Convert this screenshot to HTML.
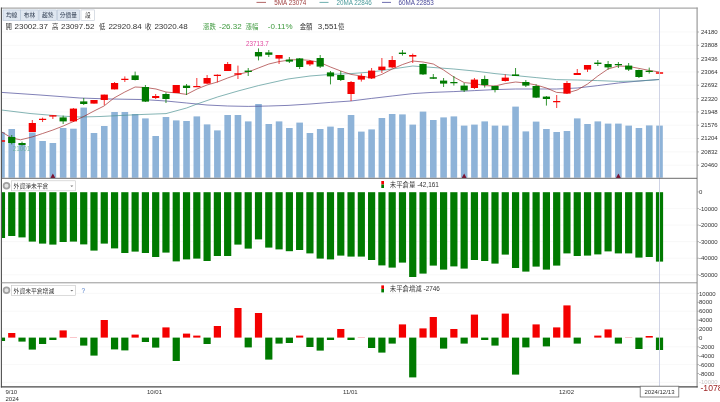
<!DOCTYPE html><html><head><meta charset="utf-8"><title>chart</title><style>html,body{margin:0;padding:0;background:#fff;overflow:hidden}svg{display:block}text{font-family:"Liberation Sans","Noto Sans CJK TC",sans-serif}</style></head><body>
<svg width="720" height="402" viewBox="0 0 720 402">
<rect width="720" height="402" fill="#fff"/>
<defs><clipPath id="cp"><rect x="1.8" y="8" width="695" height="379"/></clipPath></defs>
<line x1="2" x2="697" y1="32.00" y2="32.00" stroke="#f4f4f4" stroke-width="0.6"/>
<line x1="2" x2="697" y1="45.32" y2="45.32" stroke="#f4f4f4" stroke-width="0.6"/>
<line x1="2" x2="697" y1="58.64" y2="58.64" stroke="#f4f4f4" stroke-width="0.6"/>
<line x1="2" x2="697" y1="71.96" y2="71.96" stroke="#f4f4f4" stroke-width="0.6"/>
<line x1="2" x2="697" y1="85.28" y2="85.28" stroke="#f4f4f4" stroke-width="0.6"/>
<line x1="2" x2="697" y1="98.60" y2="98.60" stroke="#f4f4f4" stroke-width="0.6"/>
<line x1="2" x2="697" y1="111.92" y2="111.92" stroke="#f4f4f4" stroke-width="0.6"/>
<line x1="2" x2="697" y1="125.24" y2="125.24" stroke="#f4f4f4" stroke-width="0.6"/>
<line x1="2" x2="697" y1="138.56" y2="138.56" stroke="#f4f4f4" stroke-width="0.6"/>
<line x1="2" x2="697" y1="151.88" y2="151.88" stroke="#f4f4f4" stroke-width="0.6"/>
<line x1="2" x2="697" y1="165.20" y2="165.20" stroke="#f4f4f4" stroke-width="0.6"/>
<line x1="2" x2="697" y1="208.48" y2="208.48" stroke="#f4f4f4" stroke-width="0.6"/>
<line x1="2" x2="697" y1="225.06" y2="225.06" stroke="#f4f4f4" stroke-width="0.6"/>
<line x1="2" x2="697" y1="241.64" y2="241.64" stroke="#f4f4f4" stroke-width="0.6"/>
<line x1="2" x2="697" y1="258.22" y2="258.22" stroke="#f4f4f4" stroke-width="0.6"/>
<line x1="2" x2="697" y1="274.80" y2="274.80" stroke="#f4f4f4" stroke-width="0.6"/>
<line x1="2" x2="697" y1="293.40" y2="293.40" stroke="#f4f4f4" stroke-width="0.6"/>
<line x1="2" x2="697" y1="311.20" y2="311.20" stroke="#f4f4f4" stroke-width="0.6"/>
<line x1="2" x2="697" y1="329.00" y2="329.00" stroke="#f4f4f4" stroke-width="0.6"/>
<line x1="2" x2="697" y1="346.80" y2="346.80" stroke="#f4f4f4" stroke-width="0.6"/>
<line x1="2" x2="697" y1="364.60" y2="364.60" stroke="#f4f4f4" stroke-width="0.6"/>
<line x1="2" x2="697" y1="382.40" y2="382.40" stroke="#f4f4f4" stroke-width="0.6"/>
<g clip-path="url(#cp)">
<rect x="-1.84" y="132.00" width="6.6" height="45.70" fill="#8eb3d8"/>
<rect x="8.44" y="129.00" width="6.6" height="48.70" fill="#8eb3d8"/>
<rect x="18.72" y="144.60" width="6.6" height="33.10" fill="#8eb3d8"/>
<rect x="29.01" y="132.50" width="6.6" height="45.20" fill="#8eb3d8"/>
<rect x="39.29" y="141.00" width="6.6" height="36.70" fill="#8eb3d8"/>
<rect x="49.57" y="143.00" width="6.6" height="34.70" fill="#8eb3d8"/>
<rect x="59.85" y="128.00" width="6.6" height="49.70" fill="#8eb3d8"/>
<rect x="70.13" y="128.70" width="6.6" height="49.00" fill="#8eb3d8"/>
<rect x="80.42" y="107.60" width="6.6" height="70.10" fill="#8eb3d8"/>
<rect x="90.70" y="133.00" width="6.6" height="44.70" fill="#8eb3d8"/>
<rect x="100.98" y="126.00" width="6.6" height="51.70" fill="#8eb3d8"/>
<rect x="111.26" y="112.00" width="6.6" height="65.70" fill="#8eb3d8"/>
<rect x="121.54" y="112.00" width="6.6" height="65.70" fill="#8eb3d8"/>
<rect x="131.83" y="114.00" width="6.6" height="63.70" fill="#8eb3d8"/>
<rect x="142.11" y="118.40" width="6.6" height="59.30" fill="#8eb3d8"/>
<rect x="152.39" y="136.00" width="6.6" height="41.70" fill="#8eb3d8"/>
<rect x="162.67" y="117.00" width="6.6" height="60.70" fill="#8eb3d8"/>
<rect x="172.95" y="120.40" width="6.6" height="57.30" fill="#8eb3d8"/>
<rect x="183.24" y="121.00" width="6.6" height="56.70" fill="#8eb3d8"/>
<rect x="193.52" y="116.40" width="6.6" height="61.30" fill="#8eb3d8"/>
<rect x="203.80" y="124.40" width="6.6" height="53.30" fill="#8eb3d8"/>
<rect x="214.08" y="130.40" width="6.6" height="47.30" fill="#8eb3d8"/>
<rect x="224.36" y="115.00" width="6.6" height="62.70" fill="#8eb3d8"/>
<rect x="234.65" y="115.00" width="6.6" height="62.70" fill="#8eb3d8"/>
<rect x="244.93" y="121.40" width="6.6" height="56.30" fill="#8eb3d8"/>
<rect x="255.21" y="104.00" width="6.6" height="73.70" fill="#8eb3d8"/>
<rect x="265.49" y="124.00" width="6.6" height="53.70" fill="#8eb3d8"/>
<rect x="275.77" y="121.40" width="6.6" height="56.30" fill="#8eb3d8"/>
<rect x="286.06" y="128.00" width="6.6" height="49.70" fill="#8eb3d8"/>
<rect x="296.34" y="122.60" width="6.6" height="55.10" fill="#8eb3d8"/>
<rect x="306.62" y="133.00" width="6.6" height="44.70" fill="#8eb3d8"/>
<rect x="316.90" y="129.00" width="6.6" height="48.70" fill="#8eb3d8"/>
<rect x="327.18" y="126.60" width="6.6" height="51.10" fill="#8eb3d8"/>
<rect x="337.47" y="128.00" width="6.6" height="49.70" fill="#8eb3d8"/>
<rect x="347.75" y="115.00" width="6.6" height="62.70" fill="#8eb3d8"/>
<rect x="358.03" y="131.60" width="6.6" height="46.10" fill="#8eb3d8"/>
<rect x="368.31" y="129.40" width="6.6" height="48.30" fill="#8eb3d8"/>
<rect x="378.59" y="118.00" width="6.6" height="59.70" fill="#8eb3d8"/>
<rect x="388.88" y="114.00" width="6.6" height="63.70" fill="#8eb3d8"/>
<rect x="399.16" y="114.40" width="6.6" height="63.30" fill="#8eb3d8"/>
<rect x="409.44" y="124.60" width="6.6" height="53.10" fill="#8eb3d8"/>
<rect x="419.72" y="111.60" width="6.6" height="66.10" fill="#8eb3d8"/>
<rect x="430.00" y="120.00" width="6.6" height="57.70" fill="#8eb3d8"/>
<rect x="440.29" y="117.40" width="6.6" height="60.30" fill="#8eb3d8"/>
<rect x="450.57" y="116.40" width="6.6" height="61.30" fill="#8eb3d8"/>
<rect x="460.85" y="125.60" width="6.6" height="52.10" fill="#8eb3d8"/>
<rect x="471.13" y="124.60" width="6.6" height="53.10" fill="#8eb3d8"/>
<rect x="481.41" y="121.40" width="6.6" height="56.30" fill="#8eb3d8"/>
<rect x="491.70" y="125.60" width="6.6" height="52.10" fill="#8eb3d8"/>
<rect x="501.98" y="125.60" width="6.6" height="52.10" fill="#8eb3d8"/>
<rect x="512.26" y="106.60" width="6.6" height="71.10" fill="#8eb3d8"/>
<rect x="522.54" y="131.40" width="6.6" height="46.30" fill="#8eb3d8"/>
<rect x="532.82" y="121.60" width="6.6" height="56.10" fill="#8eb3d8"/>
<rect x="543.11" y="129.00" width="6.6" height="48.70" fill="#8eb3d8"/>
<rect x="553.39" y="132.00" width="6.6" height="45.70" fill="#8eb3d8"/>
<rect x="563.67" y="131.00" width="6.6" height="46.70" fill="#8eb3d8"/>
<rect x="573.95" y="118.40" width="6.6" height="59.30" fill="#8eb3d8"/>
<rect x="584.23" y="124.00" width="6.6" height="53.70" fill="#8eb3d8"/>
<rect x="594.52" y="121.40" width="6.6" height="56.30" fill="#8eb3d8"/>
<rect x="604.80" y="123.60" width="6.6" height="54.10" fill="#8eb3d8"/>
<rect x="615.08" y="123.60" width="6.6" height="54.10" fill="#8eb3d8"/>
<rect x="625.36" y="125.60" width="6.6" height="52.10" fill="#8eb3d8"/>
<rect x="635.64" y="128.00" width="6.6" height="49.70" fill="#8eb3d8"/>
<rect x="645.93" y="125.40" width="6.6" height="52.30" fill="#8eb3d8"/>
<rect x="656.21" y="125.60" width="6.6" height="52.10" fill="#8eb3d8"/>
<polyline points="1.5,92.4 40.0,95.0 80.0,98.0 110.0,99.0 144.0,99.6 166.0,101.0 186.6,103.0 207.0,105.0 227.6,106.0 248.2,106.4 268.8,106.0 288.0,105.4 310.0,104.0 330.4,102.4 351.0,101.0 371.6,98.4 392.2,96.0 412.8,93.6 432.0,92.4 453.8,91.6 474.4,90.6 495.0,89.6 515.6,89.0 536.2,89.0 556.6,89.0 577.2,88.0 597.8,85.6 618.4,83.0 639.0,81.0 659.4,79.4" fill="none" stroke="#4a4a98" stroke-width="0.7" stroke-linejoin="round"/>
<polyline points="1.5,110.0 30.0,113.5 60.0,116.0 80.0,117.0 100.0,116.5 120.0,115.5 144.0,114.4 166.0,113.6 186.6,108.0 197.0,104.0 217.4,97.0 238.0,91.0 258.4,85.6 279.0,81.0 288.0,79.0 310.0,76.0 330.4,74.4 351.0,73.6 371.6,72.0 392.2,69.0 412.8,66.0 432.0,67.4 453.8,69.0 474.4,71.0 495.0,73.6 515.6,75.6 536.2,77.6 556.6,79.6 577.2,80.0 597.8,80.6 618.4,81.4 639.0,81.0 659.4,79.6" fill="none" stroke="#4f9393" stroke-width="0.7" stroke-linejoin="round"/>
<polyline points="1.5,131.8 11.7,138.0 20.5,139.8 32.0,137.0 42.6,133.5 52.9,130.0 63.2,126.0 73.4,121.5 83.7,116.5 94.0,111.0 104.0,106.0 114.0,98.0 124.8,92.0 135.1,87.0 145.4,87.5 156.0,89.0 166.0,92.0 177.0,93.0 186.6,94.4 197.0,89.0 207.0,85.0 217.4,82.0 227.6,78.0 238.0,74.4 248.2,72.0 258.4,68.0 268.8,64.0 279.0,61.6 289.4,60.0 299.6,59.6 310.0,60.4 320.2,62.6 330.4,67.0 340.8,71.0 351.0,74.4 361.4,76.0 371.6,78.0 381.8,74.4 392.2,69.0 402.4,64.6 412.8,61.0 423.0,62.0 433.3,64.0 443.6,70.0 453.8,77.0 464.2,82.6 474.4,83.6 484.8,85.6 495.0,86.0 505.2,83.6 515.6,82.0 525.8,83.0 536.2,85.0 546.4,88.0 556.6,92.4 567.0,93.0 577.2,90.0 587.6,84.0 597.8,76.0 608.0,69.0 618.4,66.0 628.6,66.4 639.0,68.4 649.2,70.4 659.4,72.0" fill="none" stroke="#a23030" stroke-width="0.7" stroke-linejoin="round"/>
<line x1="1.46" x2="1.46" y1="134.00" y2="150.00" stroke="#f40000" stroke-width="0.8"/>
<line x1="-2.14" x2="5.06" y1="141.00" y2="141.00" stroke="#f40000" stroke-width="1.3"/>
<line x1="11.74" x2="11.74" y1="135.00" y2="144.40" stroke="#007a00" stroke-width="0.8"/>
<rect x="8.14" y="137.00" width="7.2" height="6.00" fill="#007a00"/>
<line x1="22.02" x2="22.02" y1="141.60" y2="145.60" stroke="#007a00" stroke-width="0.8"/>
<rect x="18.42" y="143.00" width="7.2" height="2.00" fill="#007a00"/>
<line x1="32.31" x2="32.31" y1="120.00" y2="132.00" stroke="#f40000" stroke-width="0.8"/>
<rect x="28.71" y="123.00" width="7.2" height="9.00" fill="#f40000"/>
<line x1="42.59" x2="42.59" y1="117.60" y2="122.00" stroke="#f40000" stroke-width="0.8"/>
<line x1="38.99" x2="46.19" y1="119.40" y2="119.40" stroke="#f40000" stroke-width="1.3"/>
<line x1="52.87" x2="52.87" y1="115.20" y2="119.00" stroke="#f40000" stroke-width="0.8"/>
<rect x="49.27" y="115.20" width="7.2" height="1.40" fill="#f40000"/>
<line x1="63.15" x2="63.15" y1="115.60" y2="124.00" stroke="#007a00" stroke-width="0.8"/>
<rect x="59.55" y="117.40" width="7.2" height="4.00" fill="#007a00"/>
<line x1="73.43" x2="73.43" y1="108.00" y2="122.00" stroke="#f40000" stroke-width="0.8"/>
<rect x="69.83" y="108.60" width="7.2" height="12.80" fill="#f40000"/>
<line x1="83.72" x2="83.72" y1="98.00" y2="105.00" stroke="#007a00" stroke-width="0.8"/>
<rect x="80.12" y="101.40" width="7.2" height="2.60" fill="#007a00"/>
<line x1="94.00" x2="94.00" y1="100.00" y2="103.60" stroke="#f40000" stroke-width="0.8"/>
<rect x="90.40" y="100.00" width="7.2" height="3.60" fill="#f40000"/>
<line x1="104.28" x2="104.28" y1="94.60" y2="105.00" stroke="#f40000" stroke-width="0.8"/>
<rect x="100.68" y="94.60" width="7.2" height="5.40" fill="#f40000"/>
<line x1="114.56" x2="114.56" y1="82.00" y2="89.40" stroke="#f40000" stroke-width="0.8"/>
<rect x="110.96" y="83.00" width="7.2" height="6.40" fill="#f40000"/>
<line x1="124.84" x2="124.84" y1="76.40" y2="82.00" stroke="#f40000" stroke-width="0.8"/>
<line x1="121.24" x2="128.44" y1="79.40" y2="79.40" stroke="#f40000" stroke-width="1.3"/>
<line x1="135.13" x2="135.13" y1="71.60" y2="80.40" stroke="#007a00" stroke-width="0.8"/>
<rect x="131.53" y="75.40" width="7.2" height="4.60" fill="#007a00"/>
<line x1="145.41" x2="145.41" y1="85.00" y2="102.00" stroke="#007a00" stroke-width="0.8"/>
<rect x="141.81" y="87.00" width="7.2" height="14.60" fill="#007a00"/>
<line x1="155.69" x2="155.69" y1="94.00" y2="99.00" stroke="#f40000" stroke-width="0.8"/>
<rect x="152.09" y="96.00" width="7.2" height="2.00" fill="#f40000"/>
<line x1="165.97" x2="165.97" y1="92.40" y2="103.00" stroke="#007a00" stroke-width="0.8"/>
<rect x="162.37" y="94.00" width="7.2" height="5.00" fill="#007a00"/>
<line x1="176.25" x2="176.25" y1="85.00" y2="93.00" stroke="#f40000" stroke-width="0.8"/>
<rect x="172.65" y="85.00" width="7.2" height="8.00" fill="#f40000"/>
<line x1="186.54" x2="186.54" y1="84.00" y2="95.00" stroke="#007a00" stroke-width="0.8"/>
<rect x="182.94" y="85.60" width="7.2" height="2.40" fill="#007a00"/>
<line x1="196.82" x2="196.82" y1="78.00" y2="87.00" stroke="#f40000" stroke-width="0.8"/>
<line x1="193.22" x2="200.42" y1="86.60" y2="86.60" stroke="#f40000" stroke-width="1.3"/>
<line x1="207.10" x2="207.10" y1="75.00" y2="84.00" stroke="#f40000" stroke-width="0.8"/>
<rect x="203.50" y="78.00" width="7.2" height="5.60" fill="#f40000"/>
<line x1="217.38" x2="217.38" y1="74.40" y2="82.40" stroke="#f40000" stroke-width="0.8"/>
<line x1="213.78" x2="220.98" y1="75.40" y2="75.40" stroke="#f40000" stroke-width="1.3"/>
<line x1="227.66" x2="227.66" y1="62.00" y2="71.00" stroke="#f40000" stroke-width="0.8"/>
<rect x="224.06" y="64.00" width="7.2" height="7.00" fill="#f40000"/>
<line x1="237.95" x2="237.95" y1="65.60" y2="79.00" stroke="#f40000" stroke-width="0.8"/>
<line x1="234.35" x2="241.55" y1="74.00" y2="74.00" stroke="#f40000" stroke-width="1.3"/>
<line x1="248.23" x2="248.23" y1="68.00" y2="76.00" stroke="#007a00" stroke-width="0.8"/>
<rect x="244.63" y="70.60" width="7.2" height="1.40" fill="#007a00"/>
<line x1="258.51" x2="258.51" y1="48.40" y2="60.40" stroke="#007a00" stroke-width="0.8"/>
<rect x="254.91" y="52.00" width="7.2" height="4.40" fill="#007a00"/>
<line x1="268.79" x2="268.79" y1="50.00" y2="57.00" stroke="#007a00" stroke-width="0.8"/>
<rect x="265.19" y="52.40" width="7.2" height="2.40" fill="#007a00"/>
<line x1="279.07" x2="279.07" y1="55.00" y2="64.00" stroke="#f40000" stroke-width="0.8"/>
<rect x="275.47" y="55.00" width="7.2" height="3.60" fill="#f40000"/>
<line x1="289.36" x2="289.36" y1="57.00" y2="63.00" stroke="#007a00" stroke-width="0.8"/>
<rect x="285.76" y="59.60" width="7.2" height="2.00" fill="#007a00"/>
<line x1="299.64" x2="299.64" y1="58.00" y2="69.00" stroke="#007a00" stroke-width="0.8"/>
<rect x="296.04" y="58.40" width="7.2" height="8.60" fill="#007a00"/>
<line x1="309.92" x2="309.92" y1="60.00" y2="66.00" stroke="#f40000" stroke-width="0.8"/>
<rect x="306.32" y="61.00" width="7.2" height="3.40" fill="#f40000"/>
<line x1="320.20" x2="320.20" y1="55.00" y2="68.00" stroke="#007a00" stroke-width="0.8"/>
<rect x="316.60" y="58.00" width="7.2" height="8.60" fill="#007a00"/>
<line x1="330.48" x2="330.48" y1="71.00" y2="84.40" stroke="#007a00" stroke-width="0.8"/>
<rect x="326.88" y="72.40" width="7.2" height="4.00" fill="#007a00"/>
<line x1="340.77" x2="340.77" y1="71.00" y2="81.00" stroke="#007a00" stroke-width="0.8"/>
<rect x="337.17" y="75.00" width="7.2" height="5.00" fill="#007a00"/>
<line x1="351.05" x2="351.05" y1="81.00" y2="101.00" stroke="#f40000" stroke-width="0.8"/>
<rect x="347.45" y="82.00" width="7.2" height="12.00" fill="#f40000"/>
<line x1="361.33" x2="361.33" y1="73.60" y2="81.60" stroke="#f40000" stroke-width="0.8"/>
<rect x="357.73" y="76.00" width="7.2" height="3.60" fill="#f40000"/>
<line x1="371.61" x2="371.61" y1="68.00" y2="79.00" stroke="#f40000" stroke-width="0.8"/>
<rect x="368.01" y="70.60" width="7.2" height="7.80" fill="#f40000"/>
<line x1="381.89" x2="381.89" y1="58.00" y2="73.00" stroke="#f40000" stroke-width="0.8"/>
<rect x="378.29" y="66.60" width="7.2" height="3.40" fill="#f40000"/>
<line x1="392.18" x2="392.18" y1="56.00" y2="68.00" stroke="#f40000" stroke-width="0.8"/>
<rect x="388.58" y="60.00" width="7.2" height="7.40" fill="#f40000"/>
<line x1="402.46" x2="402.46" y1="50.00" y2="55.60" stroke="#007a00" stroke-width="0.8"/>
<rect x="398.86" y="52.60" width="7.2" height="1.40" fill="#007a00"/>
<line x1="412.74" x2="412.74" y1="53.60" y2="63.00" stroke="#f40000" stroke-width="0.8"/>
<rect x="409.14" y="55.00" width="7.2" height="1.60" fill="#f40000"/>
<line x1="423.02" x2="423.02" y1="63.60" y2="75.00" stroke="#007a00" stroke-width="0.8"/>
<rect x="419.42" y="64.00" width="7.2" height="10.40" fill="#007a00"/>
<line x1="433.30" x2="433.30" y1="74.00" y2="79.00" stroke="#007a00" stroke-width="0.8"/>
<line x1="429.70" x2="436.90" y1="78.00" y2="78.00" stroke="#007a00" stroke-width="1.3"/>
<line x1="443.59" x2="443.59" y1="78.00" y2="87.00" stroke="#007a00" stroke-width="0.8"/>
<rect x="439.99" y="80.60" width="7.2" height="3.00" fill="#007a00"/>
<line x1="453.87" x2="453.87" y1="76.00" y2="85.60" stroke="#007a00" stroke-width="0.8"/>
<line x1="450.27" x2="457.47" y1="82.60" y2="82.60" stroke="#007a00" stroke-width="1.3"/>
<line x1="464.15" x2="464.15" y1="83.00" y2="92.00" stroke="#007a00" stroke-width="0.8"/>
<rect x="460.55" y="85.60" width="7.2" height="4.80" fill="#007a00"/>
<line x1="474.43" x2="474.43" y1="78.00" y2="89.00" stroke="#f40000" stroke-width="0.8"/>
<rect x="470.83" y="79.60" width="7.2" height="8.40" fill="#f40000"/>
<line x1="484.71" x2="484.71" y1="75.60" y2="87.60" stroke="#007a00" stroke-width="0.8"/>
<rect x="481.11" y="79.00" width="7.2" height="6.00" fill="#007a00"/>
<line x1="495.00" x2="495.00" y1="85.60" y2="92.40" stroke="#007a00" stroke-width="0.8"/>
<rect x="491.40" y="86.00" width="7.2" height="4.00" fill="#007a00"/>
<line x1="505.28" x2="505.28" y1="74.40" y2="81.60" stroke="#f40000" stroke-width="0.8"/>
<rect x="501.68" y="77.60" width="7.2" height="3.40" fill="#f40000"/>
<line x1="515.56" x2="515.56" y1="68.00" y2="76.00" stroke="#007a00" stroke-width="0.8"/>
<rect x="511.96" y="74.40" width="7.2" height="1.60" fill="#007a00"/>
<line x1="525.84" x2="525.84" y1="80.00" y2="87.00" stroke="#007a00" stroke-width="0.8"/>
<rect x="522.24" y="82.00" width="7.2" height="3.60" fill="#007a00"/>
<line x1="536.12" x2="536.12" y1="84.40" y2="98.00" stroke="#007a00" stroke-width="0.8"/>
<rect x="532.52" y="86.00" width="7.2" height="11.60" fill="#007a00"/>
<line x1="546.41" x2="546.41" y1="96.00" y2="105.60" stroke="#007a00" stroke-width="0.8"/>
<rect x="542.81" y="96.60" width="7.2" height="2.40" fill="#007a00"/>
<line x1="556.69" x2="556.69" y1="95.00" y2="108.00" stroke="#f40000" stroke-width="0.8"/>
<line x1="553.09" x2="560.29" y1="101.60" y2="101.60" stroke="#f40000" stroke-width="1.3"/>
<line x1="566.97" x2="566.97" y1="81.00" y2="94.00" stroke="#f40000" stroke-width="0.8"/>
<rect x="563.37" y="83.00" width="7.2" height="10.60" fill="#f40000"/>
<line x1="577.25" x2="577.25" y1="69.00" y2="75.00" stroke="#f40000" stroke-width="0.8"/>
<rect x="573.65" y="73.00" width="7.2" height="2.00" fill="#f40000"/>
<line x1="587.53" x2="587.53" y1="65.00" y2="72.00" stroke="#f40000" stroke-width="0.8"/>
<rect x="583.93" y="65.00" width="7.2" height="4.60" fill="#f40000"/>
<line x1="597.82" x2="597.82" y1="60.00" y2="66.00" stroke="#007a00" stroke-width="0.8"/>
<rect x="594.22" y="62.60" width="7.2" height="1.40" fill="#007a00"/>
<line x1="608.10" x2="608.10" y1="61.00" y2="69.60" stroke="#007a00" stroke-width="0.8"/>
<rect x="604.50" y="64.00" width="7.2" height="3.40" fill="#007a00"/>
<line x1="618.38" x2="618.38" y1="62.00" y2="68.00" stroke="#007a00" stroke-width="0.8"/>
<line x1="614.78" x2="621.98" y1="64.60" y2="64.60" stroke="#007a00" stroke-width="1.3"/>
<line x1="628.66" x2="628.66" y1="63.00" y2="71.00" stroke="#007a00" stroke-width="0.8"/>
<rect x="625.06" y="65.60" width="7.2" height="4.00" fill="#007a00"/>
<line x1="638.94" x2="638.94" y1="69.60" y2="78.00" stroke="#007a00" stroke-width="0.8"/>
<rect x="635.34" y="70.00" width="7.2" height="7.00" fill="#007a00"/>
<line x1="649.23" x2="649.23" y1="67.60" y2="73.60" stroke="#007a00" stroke-width="0.8"/>
<line x1="645.63" x2="652.83" y1="71.40" y2="71.40" stroke="#007a00" stroke-width="1.3"/>
<line x1="659.51" x2="659.51" y1="71.60" y2="74.00" stroke="#f40000" stroke-width="0.8"/>
<line x1="655.91" x2="663.11" y1="73.00" y2="73.00" stroke="#f40000" stroke-width="1.3"/>
<path d="M50.47 178 L52.87 173.6 L55.27 178 Z" fill="#7a1030"/>
<path d="M461.75 178 L464.15 173.6 L466.55 178 Z" fill="#7a1030"/>
<path d="M615.98 178 L618.38 173.6 L620.78 178 Z" fill="#7a1030"/>
<rect x="-2.14" y="192.2" width="7.2" height="45.80" fill="#007a00"/>
<rect x="8.14" y="192.2" width="7.2" height="43.80" fill="#007a00"/>
<rect x="18.42" y="192.2" width="7.2" height="45.20" fill="#007a00"/>
<rect x="28.71" y="192.2" width="7.2" height="49.40" fill="#007a00"/>
<rect x="38.99" y="192.2" width="7.2" height="51.40" fill="#007a00"/>
<rect x="49.27" y="192.2" width="7.2" height="52.40" fill="#007a00"/>
<rect x="59.55" y="192.2" width="7.2" height="49.80" fill="#007a00"/>
<rect x="69.83" y="192.2" width="7.2" height="49.40" fill="#007a00"/>
<rect x="80.12" y="192.2" width="7.2" height="52.20" fill="#007a00"/>
<rect x="90.40" y="192.2" width="7.2" height="58.40" fill="#007a00"/>
<rect x="100.68" y="192.2" width="7.2" height="51.40" fill="#007a00"/>
<rect x="110.96" y="192.2" width="7.2" height="56.20" fill="#007a00"/>
<rect x="121.24" y="192.2" width="7.2" height="60.80" fill="#007a00"/>
<rect x="131.53" y="192.2" width="7.2" height="59.40" fill="#007a00"/>
<rect x="141.81" y="192.2" width="7.2" height="60.80" fill="#007a00"/>
<rect x="152.09" y="192.2" width="7.2" height="64.80" fill="#007a00"/>
<rect x="162.37" y="192.2" width="7.2" height="60.40" fill="#007a00"/>
<rect x="172.65" y="192.2" width="7.2" height="69.20" fill="#007a00"/>
<rect x="182.94" y="192.2" width="7.2" height="67.20" fill="#007a00"/>
<rect x="193.22" y="192.2" width="7.2" height="66.40" fill="#007a00"/>
<rect x="203.50" y="192.2" width="7.2" height="68.80" fill="#007a00"/>
<rect x="213.78" y="192.2" width="7.2" height="63.80" fill="#007a00"/>
<rect x="224.06" y="192.2" width="7.2" height="63.80" fill="#007a00"/>
<rect x="234.35" y="192.2" width="7.2" height="52.40" fill="#007a00"/>
<rect x="244.63" y="192.2" width="7.2" height="56.40" fill="#007a00"/>
<rect x="254.91" y="192.2" width="7.2" height="47.20" fill="#007a00"/>
<rect x="265.19" y="192.2" width="7.2" height="55.40" fill="#007a00"/>
<rect x="275.47" y="192.2" width="7.2" height="57.20" fill="#007a00"/>
<rect x="285.76" y="192.2" width="7.2" height="59.00" fill="#007a00"/>
<rect x="296.04" y="192.2" width="7.2" height="57.80" fill="#007a00"/>
<rect x="306.32" y="192.2" width="7.2" height="61.20" fill="#007a00"/>
<rect x="316.60" y="192.2" width="7.2" height="66.40" fill="#007a00"/>
<rect x="326.88" y="192.2" width="7.2" height="67.20" fill="#007a00"/>
<rect x="337.17" y="192.2" width="7.2" height="63.40" fill="#007a00"/>
<rect x="347.45" y="192.2" width="7.2" height="64.40" fill="#007a00"/>
<rect x="357.73" y="192.2" width="7.2" height="64.40" fill="#007a00"/>
<rect x="368.01" y="192.2" width="7.2" height="67.80" fill="#007a00"/>
<rect x="378.29" y="192.2" width="7.2" height="73.20" fill="#007a00"/>
<rect x="388.58" y="192.2" width="7.2" height="75.40" fill="#007a00"/>
<rect x="398.86" y="192.2" width="7.2" height="70.40" fill="#007a00"/>
<rect x="409.14" y="192.2" width="7.2" height="84.80" fill="#007a00"/>
<rect x="419.42" y="192.2" width="7.2" height="81.40" fill="#007a00"/>
<rect x="429.70" y="192.2" width="7.2" height="73.40" fill="#007a00"/>
<rect x="439.99" y="192.2" width="7.2" height="77.40" fill="#007a00"/>
<rect x="450.27" y="192.2" width="7.2" height="74.20" fill="#007a00"/>
<rect x="460.55" y="192.2" width="7.2" height="76.40" fill="#007a00"/>
<rect x="470.83" y="192.2" width="7.2" height="67.80" fill="#007a00"/>
<rect x="481.11" y="192.2" width="7.2" height="68.80" fill="#007a00"/>
<rect x="491.40" y="192.2" width="7.2" height="71.40" fill="#007a00"/>
<rect x="501.68" y="192.2" width="7.2" height="62.40" fill="#007a00"/>
<rect x="511.96" y="192.2" width="7.2" height="75.80" fill="#007a00"/>
<rect x="522.24" y="192.2" width="7.2" height="79.40" fill="#007a00"/>
<rect x="532.52" y="192.2" width="7.2" height="74.40" fill="#007a00"/>
<rect x="542.81" y="192.2" width="7.2" height="77.40" fill="#007a00"/>
<rect x="553.09" y="192.2" width="7.2" height="73.40" fill="#007a00"/>
<rect x="563.37" y="192.2" width="7.2" height="61.20" fill="#007a00"/>
<rect x="573.65" y="192.2" width="7.2" height="63.80" fill="#007a00"/>
<rect x="583.93" y="192.2" width="7.2" height="63.40" fill="#007a00"/>
<rect x="594.22" y="192.2" width="7.2" height="62.20" fill="#007a00"/>
<rect x="604.50" y="192.2" width="7.2" height="59.20" fill="#007a00"/>
<rect x="614.78" y="192.2" width="7.2" height="61.20" fill="#007a00"/>
<rect x="625.06" y="192.2" width="7.2" height="61.20" fill="#007a00"/>
<rect x="635.34" y="192.2" width="7.2" height="65.40" fill="#007a00"/>
<rect x="645.63" y="192.2" width="7.2" height="64.80" fill="#007a00"/>
<rect x="655.91" y="192.2" width="7.2" height="69.40" fill="#007a00"/>
<rect x="-2.14" y="337.60" width="7.2" height="3.40" fill="#007a00"/>
<rect x="8.14" y="333.00" width="7.2" height="4.60" fill="#f40000"/>
<rect x="18.42" y="337.60" width="7.2" height="4.00" fill="#007a00"/>
<rect x="28.71" y="337.60" width="7.2" height="12.00" fill="#007a00"/>
<rect x="38.99" y="337.60" width="7.2" height="6.40" fill="#007a00"/>
<rect x="49.27" y="337.60" width="7.2" height="2.40" fill="#007a00"/>
<rect x="59.55" y="330.40" width="7.2" height="7.20" fill="#f40000"/>
<rect x="69.83" y="337.00" width="7.2" height="0.60" fill="#f7a0a8"/>
<rect x="80.12" y="337.60" width="7.2" height="8.00" fill="#007a00"/>
<rect x="90.40" y="337.60" width="7.2" height="18.00" fill="#007a00"/>
<rect x="100.68" y="320.00" width="7.2" height="17.60" fill="#f40000"/>
<rect x="110.96" y="337.60" width="7.2" height="11.80" fill="#007a00"/>
<rect x="121.24" y="337.60" width="7.2" height="12.80" fill="#007a00"/>
<rect x="131.53" y="334.60" width="7.2" height="3.00" fill="#f40000"/>
<rect x="141.81" y="337.60" width="7.2" height="4.40" fill="#007a00"/>
<rect x="152.09" y="337.60" width="7.2" height="10.00" fill="#007a00"/>
<rect x="162.37" y="327.40" width="7.2" height="10.20" fill="#f40000"/>
<rect x="172.65" y="337.60" width="7.2" height="23.40" fill="#007a00"/>
<rect x="182.94" y="333.60" width="7.2" height="4.00" fill="#f40000"/>
<rect x="193.22" y="335.60" width="7.2" height="2.00" fill="#f40000"/>
<rect x="203.50" y="337.60" width="7.2" height="6.40" fill="#007a00"/>
<rect x="213.78" y="326.00" width="7.2" height="11.60" fill="#f40000"/>
<rect x="234.35" y="308.00" width="7.2" height="29.60" fill="#f40000"/>
<rect x="244.63" y="337.60" width="7.2" height="9.80" fill="#007a00"/>
<rect x="254.91" y="313.00" width="7.2" height="24.60" fill="#f40000"/>
<rect x="265.19" y="337.60" width="7.2" height="22.00" fill="#007a00"/>
<rect x="275.47" y="337.60" width="7.2" height="6.00" fill="#007a00"/>
<rect x="285.76" y="337.60" width="7.2" height="5.40" fill="#007a00"/>
<rect x="296.04" y="335.60" width="7.2" height="2.00" fill="#f40000"/>
<rect x="306.32" y="337.60" width="7.2" height="9.40" fill="#007a00"/>
<rect x="316.60" y="337.60" width="7.2" height="13.00" fill="#007a00"/>
<rect x="326.88" y="337.60" width="7.2" height="2.40" fill="#007a00"/>
<rect x="337.17" y="329.00" width="7.2" height="8.60" fill="#f40000"/>
<rect x="347.45" y="337.60" width="7.2" height="2.40" fill="#007a00"/>
<rect x="357.73" y="337.00" width="7.2" height="0.60" fill="#f7a0a8"/>
<rect x="368.01" y="337.60" width="7.2" height="10.40" fill="#007a00"/>
<rect x="378.29" y="337.60" width="7.2" height="15.00" fill="#007a00"/>
<rect x="388.58" y="337.60" width="7.2" height="6.00" fill="#007a00"/>
<rect x="398.86" y="324.40" width="7.2" height="13.20" fill="#f40000"/>
<rect x="409.14" y="337.60" width="7.2" height="39.80" fill="#007a00"/>
<rect x="419.42" y="328.40" width="7.2" height="9.20" fill="#f40000"/>
<rect x="429.70" y="317.00" width="7.2" height="20.60" fill="#f40000"/>
<rect x="439.99" y="337.60" width="7.2" height="11.00" fill="#007a00"/>
<rect x="450.27" y="329.00" width="7.2" height="8.60" fill="#f40000"/>
<rect x="460.55" y="337.60" width="7.2" height="6.00" fill="#007a00"/>
<rect x="470.83" y="314.60" width="7.2" height="23.00" fill="#f40000"/>
<rect x="481.11" y="337.60" width="7.2" height="2.40" fill="#007a00"/>
<rect x="491.40" y="337.60" width="7.2" height="8.00" fill="#007a00"/>
<rect x="501.68" y="313.60" width="7.2" height="24.00" fill="#f40000"/>
<rect x="511.96" y="337.60" width="7.2" height="37.00" fill="#007a00"/>
<rect x="522.24" y="337.60" width="7.2" height="9.80" fill="#007a00"/>
<rect x="532.52" y="324.40" width="7.2" height="13.20" fill="#f40000"/>
<rect x="542.81" y="337.60" width="7.2" height="8.80" fill="#007a00"/>
<rect x="553.09" y="327.40" width="7.2" height="10.20" fill="#f40000"/>
<rect x="563.37" y="305.40" width="7.2" height="32.20" fill="#f40000"/>
<rect x="573.65" y="337.60" width="7.2" height="6.00" fill="#007a00"/>
<rect x="594.22" y="335.60" width="7.2" height="2.00" fill="#f40000"/>
<rect x="604.50" y="329.40" width="7.2" height="8.20" fill="#f40000"/>
<rect x="614.78" y="337.60" width="7.2" height="6.00" fill="#007a00"/>
<rect x="625.06" y="337.00" width="7.2" height="0.60" fill="#f7a0a8"/>
<rect x="635.34" y="337.60" width="7.2" height="11.40" fill="#007a00"/>
<rect x="645.63" y="336.00" width="7.2" height="1.60" fill="#f40000"/>
<rect x="655.91" y="337.60" width="7.2" height="12.40" fill="#007a00"/>
</g>
<line x1="659.5" x2="659.5" y1="8.5" y2="386.5" stroke="#c9cee2" stroke-width="0.9"/>
<line x1="1.3" x2="697.6" y1="8.1" y2="8.1" stroke="#a8a8a8" stroke-width="1.1"/>
<line x1="1.4" x2="1.4" y1="7.6" y2="387.5" stroke="#505050" stroke-width="1.1"/>
<line x1="697.1" x2="697.1" y1="7.6" y2="387.5" stroke="#9a9a9a" stroke-width="1.2"/>
<line x1="0.9" x2="697.7" y1="386.9" y2="386.9" stroke="#484848" stroke-width="1.4"/>
<line x1="1.4" x2="697.1" y1="178.3" y2="178.3" stroke="#5a5a5a" stroke-width="0.9"/>
<line x1="1.4" x2="697.1" y1="282.8" y2="282.8" stroke="#8a8a8a" stroke-width="0.9"/>
<line x1="697" x2="699" y1="32.00" y2="32.00" stroke="#9a9a9a" stroke-width="0.7"/>
<text x="701" y="33.90" font-size="6" fill="#333" text-anchor="start" >24180</text>
<line x1="697" x2="699" y1="45.32" y2="45.32" stroke="#9a9a9a" stroke-width="0.7"/>
<text x="701" y="47.22" font-size="6" fill="#333" text-anchor="start" >23808</text>
<line x1="697" x2="699" y1="58.64" y2="58.64" stroke="#9a9a9a" stroke-width="0.7"/>
<text x="701" y="60.54" font-size="6" fill="#333" text-anchor="start" >23436</text>
<line x1="697" x2="699" y1="71.96" y2="71.96" stroke="#9a9a9a" stroke-width="0.7"/>
<text x="701" y="73.86" font-size="6" fill="#333" text-anchor="start" >23064</text>
<line x1="697" x2="699" y1="85.28" y2="85.28" stroke="#9a9a9a" stroke-width="0.7"/>
<text x="701" y="87.18" font-size="6" fill="#333" text-anchor="start" >22692</text>
<line x1="697" x2="699" y1="98.60" y2="98.60" stroke="#9a9a9a" stroke-width="0.7"/>
<text x="701" y="100.50" font-size="6" fill="#333" text-anchor="start" >22320</text>
<line x1="697" x2="699" y1="111.92" y2="111.92" stroke="#9a9a9a" stroke-width="0.7"/>
<text x="701" y="113.82" font-size="6" fill="#333" text-anchor="start" >21948</text>
<line x1="697" x2="699" y1="125.24" y2="125.24" stroke="#9a9a9a" stroke-width="0.7"/>
<text x="701" y="127.14" font-size="6" fill="#333" text-anchor="start" >21576</text>
<line x1="697" x2="699" y1="138.56" y2="138.56" stroke="#9a9a9a" stroke-width="0.7"/>
<text x="701" y="140.46" font-size="6" fill="#333" text-anchor="start" >21204</text>
<line x1="697" x2="699" y1="151.88" y2="151.88" stroke="#9a9a9a" stroke-width="0.7"/>
<text x="701" y="153.78" font-size="6" fill="#333" text-anchor="start" >20832</text>
<line x1="697" x2="699" y1="165.20" y2="165.20" stroke="#9a9a9a" stroke-width="0.7"/>
<text x="701" y="167.10" font-size="6" fill="#333" text-anchor="start" >20460</text>
<line x1="697" x2="699" y1="191.90" y2="191.90" stroke="#9a9a9a" stroke-width="0.7"/>
<text x="699" y="194.00" font-size="6" fill="#333" text-anchor="start" >0</text>
<line x1="697" x2="699" y1="208.48" y2="208.48" stroke="#9a9a9a" stroke-width="0.7"/>
<text x="699" y="210.58" font-size="6" fill="#333" text-anchor="start" >-10000</text>
<line x1="697" x2="699" y1="225.06" y2="225.06" stroke="#9a9a9a" stroke-width="0.7"/>
<text x="699" y="227.16" font-size="6" fill="#333" text-anchor="start" >-20000</text>
<line x1="697" x2="699" y1="241.64" y2="241.64" stroke="#9a9a9a" stroke-width="0.7"/>
<text x="699" y="243.74" font-size="6" fill="#333" text-anchor="start" >-30000</text>
<line x1="697" x2="699" y1="258.22" y2="258.22" stroke="#9a9a9a" stroke-width="0.7"/>
<text x="699" y="260.32" font-size="6" fill="#333" text-anchor="start" >-40000</text>
<line x1="697" x2="699" y1="274.80" y2="274.80" stroke="#9a9a9a" stroke-width="0.7"/>
<text x="699" y="276.90" font-size="6" fill="#333" text-anchor="start" >-50000</text>
<line x1="697" x2="699" y1="293.40" y2="293.40" stroke="#9a9a9a" stroke-width="0.7"/>
<text x="699" y="295.50" font-size="6" fill="#333" text-anchor="start" >10000</text>
<line x1="697" x2="699" y1="302.30" y2="302.30" stroke="#9a9a9a" stroke-width="0.7"/>
<text x="699" y="304.40" font-size="6" fill="#333" text-anchor="start" >8000</text>
<line x1="697" x2="699" y1="311.20" y2="311.20" stroke="#9a9a9a" stroke-width="0.7"/>
<text x="699" y="313.30" font-size="6" fill="#333" text-anchor="start" >6000</text>
<line x1="697" x2="699" y1="320.10" y2="320.10" stroke="#9a9a9a" stroke-width="0.7"/>
<text x="699" y="322.20" font-size="6" fill="#333" text-anchor="start" >4000</text>
<line x1="697" x2="699" y1="329.00" y2="329.00" stroke="#9a9a9a" stroke-width="0.7"/>
<text x="699" y="331.10" font-size="6" fill="#333" text-anchor="start" >2000</text>
<line x1="697" x2="699" y1="337.90" y2="337.90" stroke="#9a9a9a" stroke-width="0.7"/>
<text x="699" y="340.00" font-size="6" fill="#333" text-anchor="start" >0</text>
<line x1="697" x2="699" y1="346.80" y2="346.80" stroke="#9a9a9a" stroke-width="0.7"/>
<text x="699" y="348.90" font-size="6" fill="#333" text-anchor="start" >-2000</text>
<line x1="697" x2="699" y1="355.70" y2="355.70" stroke="#9a9a9a" stroke-width="0.7"/>
<text x="699" y="357.80" font-size="6" fill="#333" text-anchor="start" >-4000</text>
<line x1="697" x2="699" y1="364.60" y2="364.60" stroke="#9a9a9a" stroke-width="0.7"/>
<text x="699" y="366.70" font-size="6" fill="#333" text-anchor="start" >-6000</text>
<line x1="697" x2="699" y1="373.50" y2="373.50" stroke="#9a9a9a" stroke-width="0.7"/>
<text x="699" y="375.60" font-size="6" fill="#333" text-anchor="start" >-8000</text>
<text x="699" y="384.40" font-size="6" fill="#c8c8c8" text-anchor="start" >-10000</text>
<text x="700.5" y="391.40" font-size="8.6" fill="#a02828" text-anchor="start" >-1078</text>
<line x1="256.5" x2="266" y1="2.4" y2="2.4" stroke="#a04040" stroke-width="0.8"/>
<text x="274.3" y="4.70" font-size="6.3" fill="#a04040" text-anchor="start" >5MA 23074</text>
<line x1="319.5" x2="328.5" y1="2.4" y2="2.4" stroke="#4a9a9a" stroke-width="0.8"/>
<text x="336.5" y="4.70" font-size="6.3" fill="#4a9a9a" text-anchor="start" >20MA 22846</text>
<line x1="382" x2="391" y1="2.4" y2="2.4" stroke="#4a4a9a" stroke-width="0.8"/>
<text x="398.5" y="4.70" font-size="6.3" fill="#4a4a9a" text-anchor="start" >60MA 22853</text>
<rect x="3" y="9.9" width="17.4" height="10.6" fill="#dfe7f1" stroke="#b4c3d6" stroke-width="0.6"/>
<text x="11.7" y="17.30" font-size="5.7" fill="#2f3c50" text-anchor="middle" >均線</text>
<rect x="20.6" y="9.9" width="17.6" height="10.6" fill="#dfe7f1" stroke="#b4c3d6" stroke-width="0.6"/>
<text x="29.400000000000002" y="17.30" font-size="5.7" fill="#2f3c50" text-anchor="middle" >布林</text>
<rect x="39" y="9.9" width="17.5" height="10.6" fill="#dfe7f1" stroke="#b4c3d6" stroke-width="0.6"/>
<text x="47.75" y="17.30" font-size="5.7" fill="#2f3c50" text-anchor="middle" >趨勢</text>
<rect x="57.3" y="9.9" width="22.2" height="10.6" fill="#dfe7f1" stroke="#b4c3d6" stroke-width="0.6"/>
<text x="68.39999999999999" y="17.30" font-size="5.7" fill="#2f3c50" text-anchor="middle" >分價量</text>
<rect x="81" y="9.9" width="13.6" height="10.6" fill="#ffffff" stroke="#c0c8d4" stroke-width="0.6"/>
<text x="87.8" y="17.30" font-size="5.7" fill="#333" text-anchor="middle" >設</text>
<text x="5.6" y="28.80" font-size="6.4" fill="#333" text-anchor="start" >開</text>
<text x="14.5" y="29.30" font-size="8" fill="#333" text-anchor="start" >23002.37</text>
<text x="52" y="28.80" font-size="6.4" fill="#333" text-anchor="start" >高</text>
<text x="61" y="29.30" font-size="8" fill="#333" text-anchor="start" >23097.52</text>
<text x="99" y="28.80" font-size="6.4" fill="#333" text-anchor="start" >低</text>
<text x="108.4" y="29.30" font-size="8" fill="#333" text-anchor="start" >22920.84</text>
<text x="145" y="28.80" font-size="6.4" fill="#333" text-anchor="start" >收</text>
<text x="154.4" y="29.30" font-size="8" fill="#333" text-anchor="start" >23020.48</text>
<text x="203" y="28.80" font-size="6.4" fill="#3f9a3f" text-anchor="start" >漲跌</text>
<text x="219" y="29.30" font-size="8" fill="#3f9a3f" text-anchor="start" >-26.32</text>
<text x="245.5" y="28.80" font-size="6.4" fill="#3f9a3f" text-anchor="start" >漲幅</text>
<text x="267.8" y="29.30" font-size="8" fill="#3f9a3f" text-anchor="start" >-0.11%</text>
<text x="299.7" y="28.80" font-size="6.4" fill="#333" text-anchor="start" >金額</text>
<text x="317.8" y="29.30" font-size="8" fill="#333" text-anchor="start" >3,551</text>
<text x="338" y="28.80" font-size="6.4" fill="#333" text-anchor="start" >億</text>
<text x="257.5" y="46.00" font-size="6.3" fill="#e24aa0" text-anchor="middle" >23713.7</text>
<text x="21.5" y="150.60" font-size="6.3" fill="#5aa890" text-anchor="middle" opacity="0.75">21001</text>
<circle cx="6.5" cy="185.8" r="2.9" fill="#e4e4e4" stroke="#a2a2a2" stroke-width="1.7"/>
<rect x="11.5" y="180.8" width="64" height="10" fill="#fff" stroke="#c4c4c4" stroke-width="0.6"/>
<text x="13.6" y="188.00" font-size="5.8" fill="#333" text-anchor="start" >外資淨未平倉</text>
<path d="M70.3 185.4 L73.3 185.4 L71.8 187.0 Z" fill="#777"/>
<circle cx="6.5" cy="290.3" r="2.9" fill="#e4e4e4" stroke="#a2a2a2" stroke-width="1.7"/>
<rect x="11.5" y="285.3" width="64" height="10" fill="#fff" stroke="#c4c4c4" stroke-width="0.6"/>
<text x="13.6" y="292.50" font-size="5.8" fill="#333" text-anchor="start" >外資未平倉增減</text>
<path d="M70.3 289.90000000000003 L73.3 289.90000000000003 L71.8 291.5 Z" fill="#777"/>
<text x="81.5" y="292.60" font-size="6.5" fill="#4a78c8" text-anchor="start" >?</text>
<rect x="381.3" y="181" width="2.7" height="3.5" fill="#f40000"/>
<rect x="381.3" y="184.5" width="2.7" height="3.5" fill="#007a00"/>
<text x="389.8" y="187.00" font-size="6.4" fill="#333" text-anchor="start" >未平倉量 -42,161</text>
<rect x="381.3" y="285.4" width="2.7" height="3.5" fill="#f40000"/>
<rect x="381.3" y="288.9" width="2.7" height="3.5" fill="#007a00"/>
<text x="389.8" y="291.40" font-size="6.4" fill="#333" text-anchor="start" >未平倉增減 -2746</text>
<text x="5.5" y="394.10" font-size="6" fill="#333" text-anchor="start" >9/10</text>
<text x="5.5" y="400.80" font-size="6" fill="#333" text-anchor="start" >2024</text>
<text x="147" y="394.10" font-size="6" fill="#333" text-anchor="start" >10/01</text>
<text x="343" y="394.10" font-size="6" fill="#333" text-anchor="start" >11/01</text>
<text x="559" y="394.10" font-size="6" fill="#333" text-anchor="start" >12/02</text>
<rect x="640.2" y="386.2" width="38.6" height="10.8" fill="#fff" stroke="#6e6e6e" stroke-width="0.8"/>
<text x="659.5" y="393.90" font-size="6" fill="#333" text-anchor="middle" >2024/12/13</text>
</svg></body></html>
